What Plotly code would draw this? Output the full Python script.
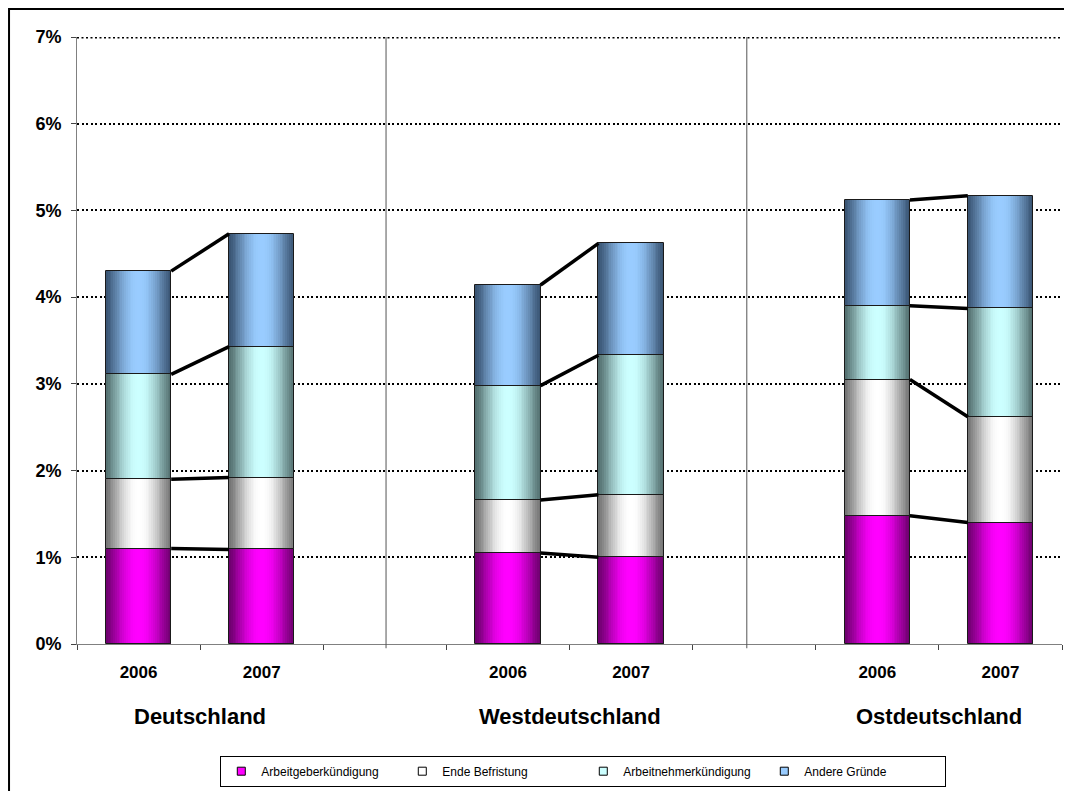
import numpy as np
import plotly.graph_objects as go

# ---------------- data ----------------
groups = ["Deutschland", "Westdeutschland", "Ostdeutschland"]
years = ["2006", "2007"]
series_names = ["Arbeitgeberkündigung", "Ende Befristung", "Arbeitnehmerkündigung", "Andere Gründe"]

# order: D-2006, D-2007, W-2006, W-2007, O-2006, O-2007  (values in %)
arbeitgeber = [1.10, 1.09, 1.05, 1.00, 1.48, 1.40]
ende_befristung = [0.80, 0.83, 0.61, 0.72, 1.57, 1.22]
arbeitnehmer = [1.21, 1.51, 1.32, 1.61, 0.85, 1.25]
andere = [1.19, 1.30, 1.16, 1.29, 1.22, 1.30]

y_ticks = [0, 1, 2, 3, 4, 5, 6, 7]

# ---------------- styles ----------------
FONT = "Arial, Liberation Sans, sans-serif"
dark_cols = ["#700070", "#767676", "#557272", "#3b5675"]
light_cols = ["#ff00ff", "#ffffff", "#ccffff", "#99ccff"]
legend_cols = ["#ff00ff", "#ffffff", "#ccffff", "#99ccff"]
BAR_W = 0.53
N_STRIPS = 18
GRID_DASH = "2px,2.5px"

# slot positions: each group has 2 bars, groups separated by 1 empty slot
x_pos = [g * 3 + k for g in range(len(groups)) for k in range(len(years))]
x_text = [y for _ in groups for y in years]
x_min, x_max = x_pos[0] - 0.5, x_pos[-1] + 0.5
boundaries = list(np.arange(x_min, x_max + 0.01, 1.0))


def hex2rgb(h):
    h = h.lstrip('#')
    return np.array([int(h[i:i + 2], 16) for i in (0, 2, 4)], dtype=float)


def mix(c1, c2, t):
    a, b = hex2rgb(c1), hex2rgb(c2)
    c = a + (b - a) * t
    return "rgb(%d,%d,%d)" % tuple(np.round(c))


all_series = [arbeitgeber, ende_befristung, arbeitnehmer, andere]
vals = np.array(all_series, dtype=float)
cum = np.cumsum(vals, axis=0)
bases = cum - vals

fig = go.Figure()

# gradient strips (nested, narrowing toward the lighter centre)
for s in range(len(all_series)):
    for i in range(N_STRIPS):
        t = i / (N_STRIPS - 1)
        te = np.sin(t * np.pi / 2) ** 1.2
        w = BAR_W * (1 - i / N_STRIPS)
        fig.add_trace(go.Bar(
            x=x_pos, y=vals[s], base=bases[s], width=w,
            marker=dict(color=mix(dark_cols[s], light_cols[s], te), line=dict(width=0)),
            showlegend=False, hoverinfo="skip"))

# outlines
for s in range(len(all_series)):
    fig.add_trace(go.Bar(
        x=x_pos, y=vals[s], base=bases[s], width=BAR_W,
        marker=dict(color="rgba(0,0,0,0)", line=dict(color="#1a1a1a", width=1)),
        showlegend=False, name=series_names[s]))

# series connector lines
for s in range(len(all_series)):
    lx, ly = [], []
    for g in range(len(groups)):
        i0, i1 = 2 * g, 2 * g + 1
        lx += [x_pos[i0] + BAR_W / 2, x_pos[i1] - BAR_W / 2, None]
        ly += [cum[s][i0], cum[s][i1], None]
    fig.add_trace(go.Scatter(x=lx, y=ly, mode="lines",
                             line=dict(color="black", width=3.5),
                             showlegend=False, hoverinfo="skip"))

# legend entries
for s in range(len(all_series)):
    fig.add_trace(go.Scatter(
        x=[None], y=[None], mode="markers", name=series_names[s],
        marker=dict(symbol="square", size=8, color=legend_cols[s],
                    line=dict(color="black", width=1))))

# group labels
annotations = []
for g, name in enumerate(groups):
    annotations.append(dict(
        x=g * 3 + 0.5, y=-0.120, xref="x", yref="paper", text="<b>%s</b>" % name,
        showarrow=False, font=dict(family=FONT, size=22, color="black"),
        xanchor="center", yanchor="middle"))

shapes = []
for xs in [2.01, 4.94]:
    shapes.append(dict(type="line", xref="x", yref="paper", x0=xs, x1=xs, y0=-0.007, y1=1,
                       line=dict(color="#555555", width=1)))
# top gridline (plotly omits the gridline at the very edge of the range)
shapes.append(dict(type="line", xref="paper", yref="paper", x0=0, x1=1, y0=0.9987, y1=0.9987,
                   line=dict(color="black", width=1.6, dash=GRID_DASH), layer="below"))
# outer frame (at the chart's outer edge)
shapes.append(dict(type="rect", xref="paper", yref="paper", x0=-0.0690, x1=1.2, y0=-0.5, y1=1.0461,
                   line=dict(color="black", width=2), fillcolor="rgba(0,0,0,0)", layer="below"))

fig.update_layout(
    width=1064, height=783,
    margin=dict(l=69, r=10, t=29, b=147, autoexpand=False),
    paper_bgcolor="white", plot_bgcolor="white",
    barmode="overlay", bargap=0,
    font=dict(family=FONT, color="black"),
    showlegend=True,
    legend=dict(orientation="h", x=0.514, xanchor="center", y=-0.184, yanchor="top",
                bordercolor="black", borderwidth=1, bgcolor="white",
                font=dict(family=FONT, size=12, color="black"),
                entrywidth=136, itemwidth=30),
    annotations=annotations,
    shapes=shapes,
)

fig.update_xaxes(
    range=[x_min, x_max], automargin=False,
    tickmode="array", tickvals=x_pos, ticktext=["<b>%s</b>" % t for t in x_text],
    tickfont=dict(family=FONT, size=17, color="black"),
    ticks="outside", ticklen=5, tickcolor="rgba(0,0,0,0)", ticklabelstandoff=8,
    minor=dict(tickmode="array", tickvals=boundaries,
               ticks="outside", ticklen=5, tickcolor="#444444", showgrid=False),
    showline=True, linecolor="#808080", linewidth=1,
    showgrid=False, zeroline=False,
)

fig.update_yaxes(
    range=[0, 7], automargin=False, tickmode="array", tickvals=y_ticks,
    ticktext=["<b>%d%%</b>" % v for v in y_ticks],
    tickfont=dict(family=FONT, size=18, color="black"),
    ticks="outside", ticklen=5, tickcolor="#444444", ticklabelstandoff=6,
    showline=True, linecolor="#808080", linewidth=1,
    showgrid=True, gridcolor="black", gridwidth=1.6, griddash=GRID_DASH,
    zeroline=False,
)

fig.write_html("out.html")
